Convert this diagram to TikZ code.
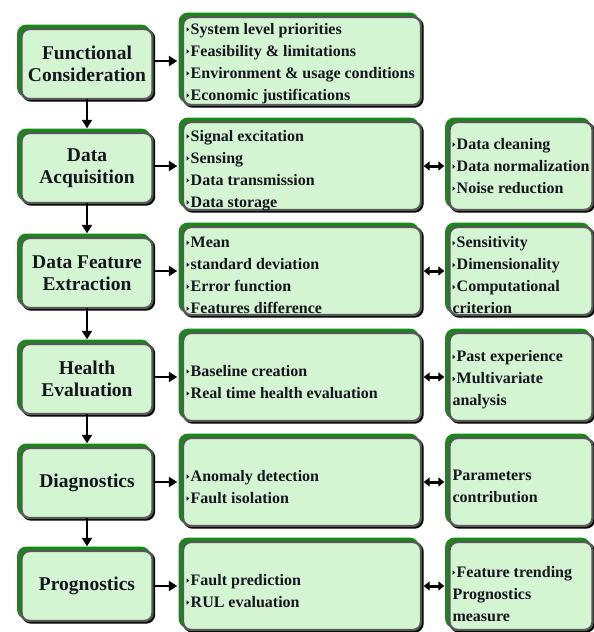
\documentclass[tikz,border=0pt]{standalone}
\usepackage{fontspec}
\setmainfont{Liberation Serif}
\usetikzlibrary{shadows,arrows.meta}

\definecolor{boxfill}{HTML}{D4F5D2}
\definecolor{glow}{HTML}{168A16}
\definecolor{rim}{HTML}{575757}
\definecolor{ink}{HTML}{15151F}

% small triangular bullet in front of each list item
\newcommand{\tri}{\raisebox{2.6pt}{\tikz\fill[ink] (0pt,0pt)--(0pt,4.6pt)--(2.8pt,2.3pt)--cycle;}\hspace{1.4pt}}

\tikzset{
  panel/.style={rounded corners=8pt, draw=rim, line width=2.4pt, fill=boxfill, inner sep=0pt,
    general shadow={fill=glow, draw=glow, line width=2.4pt, shadow xshift=-3.2pt, shadow yshift=3.2pt},
    general shadow={fill=black, draw=black, line width=2.4pt, shadow xshift=1.5pt, shadow yshift=-1.5pt}},
  stage/.style={panel, minimum width=131pt, minimum height=70pt, align=center,
    font=\fontsize{19.5}{22}\selectfont\bfseries, text=ink},
  detail/.style={panel, minimum width=238pt, minimum height=88pt},
  extra/.style={panel, minimum width=143pt, minimum height=88pt},
  items/.style={anchor=west, align=left, inner sep=0pt,
    font=\fontsize{16}{22}\selectfont\bfseries, text=ink},
  flow/.style={line width=2.8pt, -{Triangle[width=10pt,length=8.5pt]}},
  twin/.style={line width=3pt, {Triangle[width=9pt,length=6pt]}-{Triangle[width=9pt,length=6pt]}}
}

\begin{document}
\begin{tikzpicture}[x=1pt,y=-1pt]
\useasboundingbox (0,0) rectangle (594,632);

% left column: process stages
\node[stage] (l1) at (87,64)  {Functional\\Consideration};
\node[stage] (l2) at (87,168) {Data\\Acquisition};
\node[stage] (l3) at (87,273) {Data Feature\\Extraction};
\node[stage] (l4) at (87,379) {Health\\Evaluation};
\node[stage] (l5) at (87,483) {Diagnostics};
\node[stage] (l6) at (87,586) {Prognostics};

% middle column: tasks of each stage
\node[detail] (m1) at (302,61)  {};
\node[detail] (m2) at (302,166) {};
\node[detail] (m3) at (302,271) {};
\node[detail] (m4) at (302,377) {};
\node[detail] (m5) at (302,482) {};
\node[detail] (m6) at (302,586) {};

% right column: supporting methods
\node[extra] (r2) at (521,166) {};
\node[extra] (r3) at (521,271) {};
\node[extra] (r4) at (521,377) {};
\node[extra] (r5) at (521,482) {};
\node[extra] (r6) at (521,586) {};

% list texts
\node[items] (t1) at ([xshift=4.5pt,yshift=-2.5pt]m1.west)
  {\tri System level priorities\\\tri Feasibility \& limitations\\\tri Environment \& usage conditions\\\tri Economic justifications};
\node[items] (t2) at ([xshift=4.5pt,yshift=-4.5pt]m2.west)
  {\tri Signal excitation\\\tri Sensing\\\tri Data transmission\\\tri Data storage};
\node[items] (t3) at ([xshift=4.5pt,yshift=-4.5pt]m3.west)
  {\tri Mean\\\tri standard deviation\\\tri Error function\\\tri Features difference};
\node[items] (t4) at ([xshift=4.5pt,yshift=-5pt]m4.west)
  {\tri Baseline creation\\\tri Real time health evaluation};
\node[items] (t5) at ([xshift=4.5pt,yshift=-5pt]m5.west)
  {\tri Anomaly detection\\\tri Fault isolation};
\node[items] (t6) at ([xshift=4.5pt,yshift=-5pt]m6.west)
  {\tri Fault prediction\\\tri RUL evaluation};

\node[items] (u2) at ([xshift=4pt,yshift=0pt]r2.west)
  {\tri Data cleaning\\\tri Data normalization\\\tri Noise reduction};
\node[items] (u3) at ([xshift=4pt,yshift=-4.5pt]r3.west)
  {\tri Sensitivity\\\tri Dimensionality\\\tri Computational\\criterion};
\node[items] (u4) at ([xshift=4pt,yshift=-3pt]r4.west)
  {\tri Past experience\\\tri Multivariate\\analysis};
\node[items] (u5) at ([xshift=4pt,yshift=-4pt]r5.west)
  {Parameters\\contribution};
\node[items] (u6) at ([xshift=4pt,yshift=-8pt]r6.west)
  {\tri Feature trending\\Prognostics\\measure};

% stage to stage
\foreach \a/\b in {l1/l2,l2/l3,l3/l4,l4/l5,l5/l6}
  \draw[flow, shorten <=-1pt, shorten >=3.5pt] (\a.south) -- (\b.north);

% stage to tasks
\foreach \i in {1,...,6}
  \draw[flow, shorten >=4.5pt] (l\i.east |- m\i.west) -- (m\i.west);

% tasks to supporting methods
\foreach \i in {2,...,6}
  \draw[twin, shorten <=1.5pt, shorten >=4pt] (m\i.east) -- (r\i.west);
\end{tikzpicture}
\end{document}
